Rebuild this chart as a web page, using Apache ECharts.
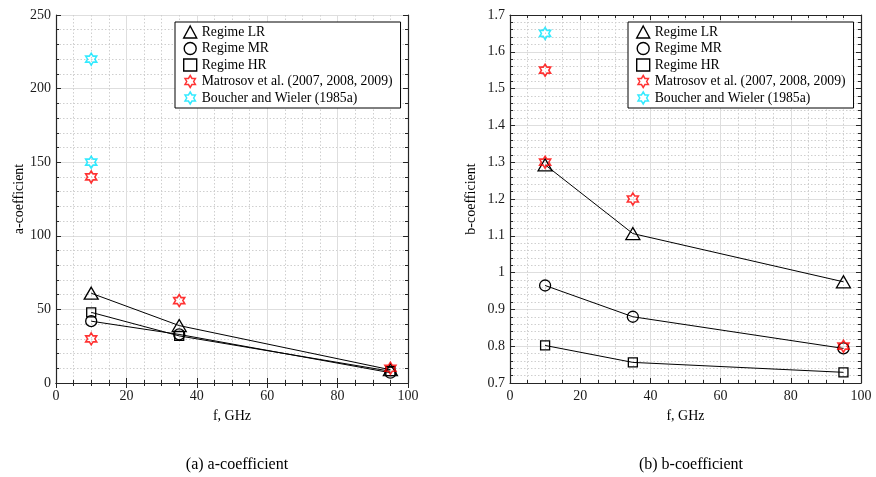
<!DOCTYPE html>
<html>
<head>
<meta charset="utf-8">
<script src="https://cdn.jsdelivr.net/npm/echarts@6/dist/echarts.min.js"></script>
<style>
html,body{margin:0;padding:0;background:#fff;}
#chart{width:876px;height:477px;}
</style>
</head>
<body>
<div id="chart"></div>
<script>
// ---- data ----
const freq = [10, 35, 95];
const xTicks = [0, 20, 40, 60, 80, 100];
const aTicks = [0, 50, 100, 150, 200, 250];
const bTicks = [0.7, 0.8, 0.9, 1.0, 1.1, 1.2, 1.3, 1.4, 1.5, 1.6, 1.7];

const aLR = [61, 39, 9];
const aMR = [42, 33, 7];
const aHR = [48, 32, 8];
const aMatrosovF = [10, 10, 35, 95];
const aMatrosov = [30, 140, 56, 10];
const aBoucherF = [10, 10];
const aBoucher = [150, 220];

const bLR = [1.293, 1.106, 0.975];
const bMR = [0.965, 0.880, 0.794];
const bHR = [0.802, 0.756, 0.729];
const bMatrosovF = [10, 10, 35, 95];
const bMatrosov = [1.30, 1.55, 1.20, 0.80];
const bBoucherF = [10];
const bBoucher = [1.65];

const names = ['Regime LR', 'Regime MR', 'Regime HR',
  'Matrosov et al. (2007, 2008, 2009)', 'Boucher and Wieler (1985a)'];
const captions = ['(a) a-coefficient', '(b) b-coefficient'];

// ---- styling ----
const FONT = 'Liberation Serif';
const STAR = 'path://M0,-10 L2.887,-5 L8.66,-5 L5.774,0 L8.66,5 L2.887,5 L0,10 L-2.887,5 L-8.66,5 L-5.774,0 L-8.66,-5 L-2.887,-5 Z';
const AXC = '#262626';

function zip(xs, ys) { return xs.map((x, i) => [x, ys[i]]); }

function mainX(gridIndex) {
  return {
    type: 'value', gridIndex, position: 'bottom', min: 0, max: 100, interval: 20,
    name: 'f, GHz', nameLocation: 'middle', nameGap: 26,
    nameTextStyle: { fontFamily: FONT, fontSize: 14, color: '#000' },
    axisLine: { show: true, lineStyle: { color: AXC, width: 1.2 } },
    axisTick: { show: true, inside: true, length: 5, lineStyle: { color: AXC } },
    minorTick: { show: true, splitNumber: 4, length: 3, lineStyle: { color: AXC } },
    axisLabel: { fontFamily: FONT, fontSize: 14, color: '#1a1a1a', margin: 6 },
    splitLine: { show: true, lineStyle: { color: '#dedede', width: 1 } },
    minorSplitLine: { show: true, lineStyle: { color: '#cfcfcf', type: [1.5, 2], width: 1 } }
  };
}
function mirrorX(gridIndex) {
  return {
    type: 'value', gridIndex, position: 'top', min: 0, max: 100, interval: 20,
    axisLine: { show: true, lineStyle: { color: AXC, width: 1.2 } },
    axisTick: { show: true, inside: true, length: 5, lineStyle: { color: AXC } },
    minorTick: { show: true, splitNumber: 4, length: 3, lineStyle: { color: AXC } },
    axisLabel: { show: false }, splitLine: { show: false }
  };
}
function mainY(gridIndex, min, max, interval, minorSplit, name, gap) {
  return {
    type: 'value', gridIndex, position: 'left', min, max, interval,
    name, nameLocation: 'middle', nameGap: gap, nameRotate: 90,
    nameTextStyle: { fontFamily: FONT, fontSize: 14, color: '#000' },
    axisLine: { show: true, onZero: false, lineStyle: { color: AXC, width: 1.2 } },
    axisTick: { show: true, inside: true, length: 5, lineStyle: { color: AXC } },
    minorTick: { show: true, splitNumber: minorSplit, length: 3, lineStyle: { color: AXC } },
    axisLabel: { fontFamily: FONT, fontSize: 14, color: '#1a1a1a', margin: 5,
      formatter: v => String(+v.toFixed(2)) },
    splitLine: { show: true, lineStyle: { color: '#dedede', width: 1 } },
    minorSplitLine: { show: true, lineStyle: { color: '#cfcfcf', type: [1.5, 2], width: 1 } }
  };
}
function mirrorY(gridIndex, min, max, interval, minorSplit) {
  return {
    type: 'value', gridIndex, position: 'right', min, max, interval,
    axisLine: { show: true, onZero: false, lineStyle: { color: AXC, width: 1.2 } },
    axisTick: { show: true, inside: true, length: 5, lineStyle: { color: AXC } },
    minorTick: { show: true, splitNumber: minorSplit, length: 3, lineStyle: { color: AXC } },
    axisLabel: { show: false }, splitLine: { show: false }
  };
}

function lineSeries(name, data, xi, yi, symbol, size) {
  return {
    type: 'line', name, xAxisIndex: xi, yAxisIndex: yi,
    data: zip(freq, data), symbol, symbolSize: size, showSymbol: true,
    lineStyle: { color: '#000', width: 1 },
    itemStyle: { color: 'rgba(0,0,0,0)', borderColor: '#000', borderWidth: 1.3 },
    emphasis: { disabled: true }, animation: false, z: 3
  };
}
function starSeries(name, xs, ys, xi, yi, col) {
  return {
    type: 'scatter', name, xAxisIndex: xi, yAxisIndex: yi,
    data: zip(xs, ys), symbol: STAR, symbolSize: [11, 12],
    itemStyle: { color: 'rgba(255,255,255,0)', borderColor: col, borderWidth: 1.6 },
    emphasis: { disabled: true }, animation: false, z: 4
  };
}

function legendAt(left) {
  return {
    orient: 'vertical', left, top: 22,
    padding: [3, 8, 3, 8], itemGap: 2.5, itemWidth: 13, itemHeight: 12,
    borderColor: '#000', borderWidth: 1, backgroundColor: '#fff',
    textStyle: { fontFamily: FONT, fontSize: 13.7, color: '#000' },
    selectedMode: false,
    data: [
      { name: names[0], icon: 'triangle', itemStyle: { color: 'rgba(0,0,0,0)', borderColor: '#000', borderWidth: 1.4 } },
      { name: names[1], icon: 'circle', itemStyle: { color: 'rgba(0,0,0,0)', borderColor: '#000', borderWidth: 1.4 } },
      { name: names[2], icon: 'rect', itemStyle: { color: 'rgba(0,0,0,0)', borderColor: '#000', borderWidth: 1.4 } },
      { name: names[3], icon: STAR, itemStyle: { color: 'rgba(0,0,0,0)', borderColor: '#ff0000', borderWidth: 1.5 } },
      { name: names[4], icon: STAR, itemStyle: { color: 'rgba(0,0,0,0)', borderColor: '#00e5ff', borderWidth: 1.5 } }
    ]
  };
}

const chart = echarts.init(document.getElementById('chart'), null, { renderer: 'canvas' });
chart.setOption({
  backgroundColor: '#fff',
  animation: false,
  title: [
    { text: captions[0], left: 232, top: 452, textAlign: 'center',
      textStyle: { fontFamily: FONT, fontSize: 16, fontWeight: 'normal', color: '#000' } },
    { text: captions[1], left: 686, top: 452, textAlign: 'center',
      textStyle: { fontFamily: FONT, fontSize: 16, fontWeight: 'normal', color: '#000' } }
  ],
  legend: [legendAt(175), legendAt(628)],
  grid: [
    { left: 56, right: 468, top: 15, bottom: 94, containLabel: false },
    { left: 510, right: 15, top: 15, bottom: 94, containLabel: false }
  ],
  xAxis: [mainX(0), mirrorX(0), mainX(1), mirrorX(1)],
  yAxis: [
    mainY(0, 0, 250, 50, 5, 'a-coefficient', 30),
    mirrorY(0, 0, 250, 50, 5),
    mainY(1, 0.7, 1.7, 0.1, 5, 'b-coefficient', 32),
    mirrorY(1, 0.7, 1.7, 0.1, 5)
  ],
  series: [
    lineSeries(names[0], aLR, 0, 0, 'triangle', [14, 12]),
    lineSeries(names[1], aMR, 0, 0, 'circle', 11),
    lineSeries(names[2], aHR, 0, 0, 'rect', 9),
    starSeries(names[3], aMatrosovF, aMatrosov, 0, 0, '#ff0000'),
    starSeries(names[4], aBoucherF, aBoucher, 0, 0, '#00e5ff'),
    lineSeries(names[0], bLR, 2, 2, 'triangle', [14, 12]),
    lineSeries(names[1], bMR, 2, 2, 'circle', 11),
    lineSeries(names[2], bHR, 2, 2, 'rect', 9),
    starSeries(names[3], bMatrosovF, bMatrosov, 2, 2, '#ff0000'),
    starSeries(names[4], bBoucherF, bBoucher, 2, 2, '#00e5ff')
  ]
});
</script>
</body>
</html>
